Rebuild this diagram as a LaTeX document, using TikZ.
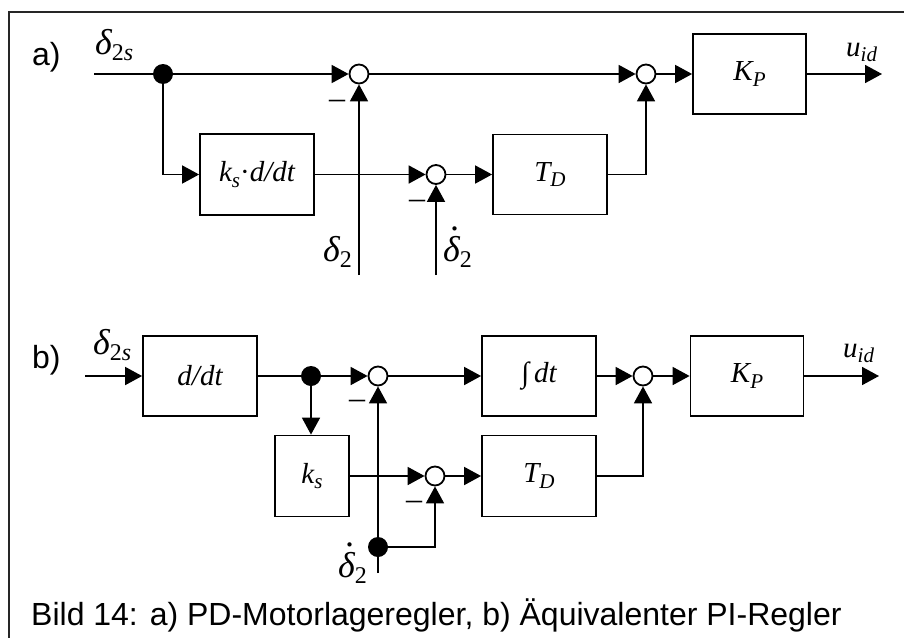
\documentclass[tikz,border=0pt]{standalone}
\usepackage{fontspec}
\setmainfont{Liberation Serif}
\newfontfamily\capfont{Liberation Sans}
\usetikzlibrary{arrows.meta}
\newcommand\lo[1]{\raisebox{-0.2em}{\fontsize{21}{21}\selectfont #1}}
\newcommand\dlo[1]{\raisebox{-0.22em}{\fontsize{24}{24}\selectfont #1}}
\newcommand\dlt{{\fontsize{36}{36}\selectfont δ}}
\newcommand\ddlt{{\fontsize{36}{36}\selectfont\makebox[0pt][l]{\hspace{0.19em}\raisebox{0.86em}{\upshape.}}δ}}
\tikzset{
  blk/.style={draw, line width=1.8pt, minimum width=114pt, minimum height=80pt, inner sep=0pt,
    font=\fontsize{29}{29}\selectfont\itshape},
  sumc/.style={draw, circle, fill=white, line width=1.8pt, minimum size=19pt, inner sep=0pt},
  jdot/.style={circle, fill=black, minimum size=20pt, inner sep=0pt},
  sig/.style={line width=1.8pt, -{Triangle[length=17pt,width=18pt]}},
  wire/.style={line width=1.8pt},
  lbl/.style={font=\fontsize{29}{29}\selectfont\itshape, inner sep=0pt, anchor=base west},
  tag/.style={font=\fontsize{32}{32}\selectfont\capfont, inner sep=0pt, anchor=base west},
  minus/.style={font=\fontsize{32}{32}\selectfont, inner sep=0pt}
}
\begin{document}
\begin{tikzpicture}[x=1pt,y=-1pt]
\useasboundingbox (0,0) rectangle (904,637);
\draw[line width=1.8pt, black!85] (9,645) -- (9,12) -- (912,12);
% ---------- a)
\node[tag] (ta) at (32,65) {a)};
\coordinate (ina) at (94,74);
\node[jdot] (dota) at (163,74) {};
\node[sumc] (sa1) at (359,74) {};
\node[sumc] (sa3) at (646,74) {};
\node[blk, minimum width=113pt] (kpa) at (749.5,74) {K\lo{P}};
\coordinate (outa) at (882,74);
\node[blk, minimum height=81pt] (kd) at (257,174.5) {k\lo{s}\upshape·\itshape d/dt};
\node[sumc] (sa2) at (436,174.5) {};
\node[blk] (tda) at (550,174.5) {T\lo{D}};
\coordinate (d2a) at (359,275);
\coordinate (dd2a) at (436,275);
\draw[wire] (ina) -- (dota);
\draw[sig] (dota) -- (sa1);
\draw[sig] (sa1) -- (sa3);
\draw[sig] (sa3) -- (kpa);
\draw[sig] (kpa) -- (outa);
\draw[sig] (dota) |- (kd);
\draw[sig] (kd) -- (sa2);
\draw[sig] (sa2) -- (tda);
\draw[sig] (tda) -| (sa3);
\draw[sig] (d2a) -- (sa1);
\draw[sig] (dd2a) -- (sa2);
\node[minus] (ma1) at (337,104) {–};
\node[minus] (ma2) at (417,204) {–};
\node[lbl] (la1) at (95,54) {\dlt\dlo{\upshape 2\itshape s}};
\node[lbl] (la2) at (323,261) {\dlt\dlo{\upshape 2}};
\node[lbl] (la3) at (443,261) {\ddlt\dlo{\upshape 2}};
\node[lbl] (la4) at (846,56) {u\lo{id}};
% ---------- b)
\node[tag] (tb) at (32,368) {b)};
\coordinate (inb) at (85,376);
\node[blk] (dd) at (200,376) {d/dt};
\node[jdot] (dotb) at (311,376) {};
\node[sumc] (sb1) at (378,376) {};
\node[blk] (int) at (539,376) {\upshape∫\,\itshape dt};
\node[sumc] (sb3) at (643,376) {};
\node[blk, minimum width=113pt] (kpb) at (747,376) {K\lo{P}};
\coordinate (outb) at (879,376);
\node[blk, minimum width=74pt, minimum height=81pt] (ks) at (312,476) {k\lo{s}};
\node[sumc] (sb2) at (435,476) {};
\node[blk, minimum height=81pt] (tdb) at (539,476) {T\lo{D}};
\coordinate (botb) at (378,573);
\node[jdot] (dotb2) at (378,547) {};
\draw[sig] (inb) -- (dd);
\draw[wire] (dd) -- (dotb);
\draw[sig] (dotb) -- (sb1);
\draw[sig] (sb1) -- (int);
\draw[sig] (int) -- (sb3);
\draw[sig] (sb3) -- (kpb);
\draw[sig] (kpb) -- (outb);
\draw[sig] (dotb) -- (dotb |- ks.north);
\draw[sig] (ks) -- (sb2);
\draw[sig] (sb2) -- (tdb);
\draw[sig] (tdb) -| (sb3);
\draw[wire] (botb) -- (dotb2);
\draw[sig] (dotb2) -- (sb1);
\draw[sig] (dotb2) -| (sb2);
\node[minus] (mb1) at (357,404) {–};
\node[minus] (mb2) at (414,505) {–};
\node[lbl] (lb1) at (93,354) {\dlt\dlo{\upshape 2\itshape s}};
\node[lbl] (lb3) at (338,577) {\ddlt\dlo{\upshape 2}};
\node[lbl] (lb4) at (843,357) {u\lo{id}};
% caption
\node[tag] (cap) at (31,625) {Bild 14: a) PD-Motorlageregler, b) Äquivalenter PI-Regler};
\end{tikzpicture}
\end{document}
